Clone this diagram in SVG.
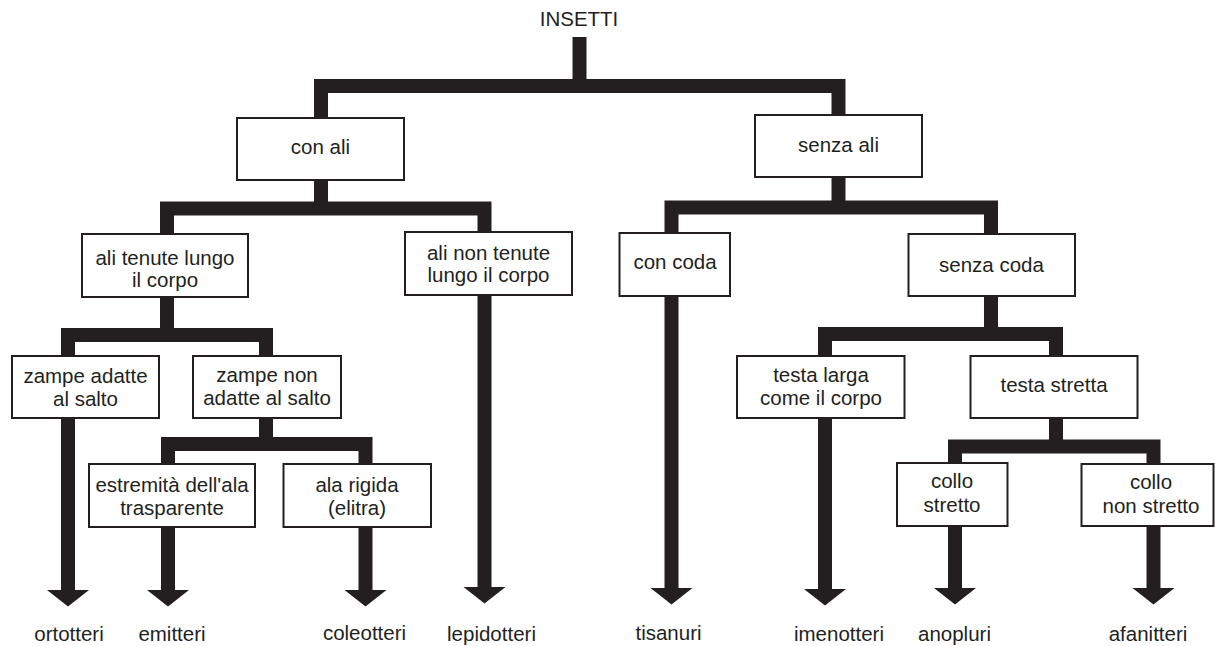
<svg xmlns="http://www.w3.org/2000/svg" width="1215" height="646" viewBox="0 0 1215 646">
<style>
.box{fill:#fff;stroke:#231f20;stroke-width:2}
text{font-family:"Liberation Sans",Arial,Helvetica,sans-serif;font-size:20.5px;fill:#231f20;text-anchor:middle}
.bar{fill:none;stroke:#231f20;stroke-width:14;stroke-linejoin:miter;stroke-linecap:butt}
.arr{fill:none;stroke:#231f20;stroke-width:14;stroke-linecap:butt;marker-end:url(#head)}
</style>
<defs>
<marker id="head" markerUnits="userSpaceOnUse" markerWidth="42" markerHeight="17" viewBox="0 0 42 17" refX="21" refY="0" orient="0" overflow="visible">
<polygon points="0,0 42,0 21,16.5" fill="#231f20"/>
</marker>
</defs>
<rect width="1215" height="646" fill="#fff"/>
<g id="connectors">
<path class="bar" d="M579.5 37V86"/>
<path class="bar" d="M321 118V86H838.5V115"/>
<path class="bar" d="M321 180V208.5"/>
<path class="bar" d="M167 234V208.5H484.5V232"/>
<path class="bar" d="M838.5 177V207.5"/>
<path class="bar" d="M671.5 233V207.5H991V234"/>
<path class="bar" d="M167 297V335"/>
<path class="bar" d="M68 356V335H266V356"/>
<path class="bar" d="M266 418V444"/>
<path class="bar" d="M168 464V444H365.5V464"/>
<path class="bar" d="M991 296V334"/>
<path class="bar" d="M825 356V334H1056V356"/>
<path class="bar" d="M1056 418V446.5"/>
<path class="bar" d="M955 463V446.5H1153.5V464"/>
<path class="arr" d="M68 418V590"/>
<path class="arr" d="M168 527V590"/>
<path class="arr" d="M365.5 527V590"/>
<path class="arr" d="M484.5 295V587"/>
<path class="arr" d="M671.5 296V588"/>
<path class="arr" d="M825 418V589"/>
<path class="arr" d="M955 526V588"/>
<path class="arr" d="M1153.5 526V588"/>
</g>
<g id="insetti"><text x="579" y="26">INSETTI</text></g>
<g id="con-ali"><rect class="box" x="237" y="118" width="167" height="62"/><text x="320.5" y="154">con ali</text></g>
<g id="senza-ali"><rect class="box" x="755" y="115" width="167" height="62"/><text x="838.5" y="152">senza ali</text></g>
<g id="ali-tenute"><rect class="box" x="82" y="234" width="166" height="63"/><text x="165" y="265">ali tenute lungo</text><text x="165" y="287">il corpo</text></g>
<g id="ali-non-tenute"><rect class="box" x="405" y="232" width="167" height="63"/><text x="488.5" y="260">ali non tenute</text><text x="488.5" y="282">lungo il corpo</text></g>
<g id="con-coda"><rect class="box" x="619.5" y="233" width="110.5" height="63"/><text x="675" y="269">con coda</text></g>
<g id="senza-coda"><rect class="box" x="908.5" y="234" width="166.5" height="62"/><text x="991.5" y="272">senza coda</text></g>
<g id="zampe-adatte"><rect class="box" x="12" y="356" width="147" height="62"/><text x="85.5" y="383">zampe adatte</text><text x="85.5" y="406">al salto</text></g>
<g id="zampe-non-adatte"><rect class="box" x="193" y="356" width="148" height="62"/><text x="267" y="382">zampe non</text><text x="267" y="405">adatte al salto</text></g>
<g id="estremita"><rect class="box" x="89" y="464" width="166" height="63"/><text x="172" y="492">estremità dell'ala</text><text x="172" y="515">trasparente</text></g>
<g id="ala-rigida"><rect class="box" x="283.5" y="464" width="147.5" height="63"/><text x="357" y="492">ala rigida</text><text x="357" y="515">(elitra)</text></g>
<g id="testa-larga"><rect class="box" x="737" y="356" width="167.5" height="62"/><text x="821" y="382">testa larga</text><text x="821" y="405">come il corpo</text></g>
<g id="testa-stretta"><rect class="box" x="970.5" y="356" width="167" height="62"/><text x="1054" y="392">testa stretta</text></g>
<g id="collo-stretto"><rect class="box" x="897" y="463" width="110.5" height="63"/><text x="952" y="488">collo</text><text x="952" y="512">stretto</text></g>
<g id="collo-non-stretto"><rect class="box" x="1081.5" y="464" width="132" height="62"/><text x="1151" y="489">collo</text><text x="1151" y="513">non stretto</text></g>
<g id="ortotteri"><text x="69" y="641">ortotteri</text></g>
<g id="emitteri"><text x="172" y="641">emitteri</text></g>
<g id="coleotteri"><text x="364.5" y="640">coleotteri</text></g>
<g id="lepidotteri"><text x="491.5" y="641">lepidotteri</text></g>
<g id="tisanuri"><text x="668.5" y="640">tisanuri</text></g>
<g id="imenotteri"><text x="839" y="641">imenotteri</text></g>
<g id="anopluri"><text x="954.5" y="641">anopluri</text></g>
<g id="afanitteri"><text x="1148" y="641">afanitteri</text></g>
</svg>
